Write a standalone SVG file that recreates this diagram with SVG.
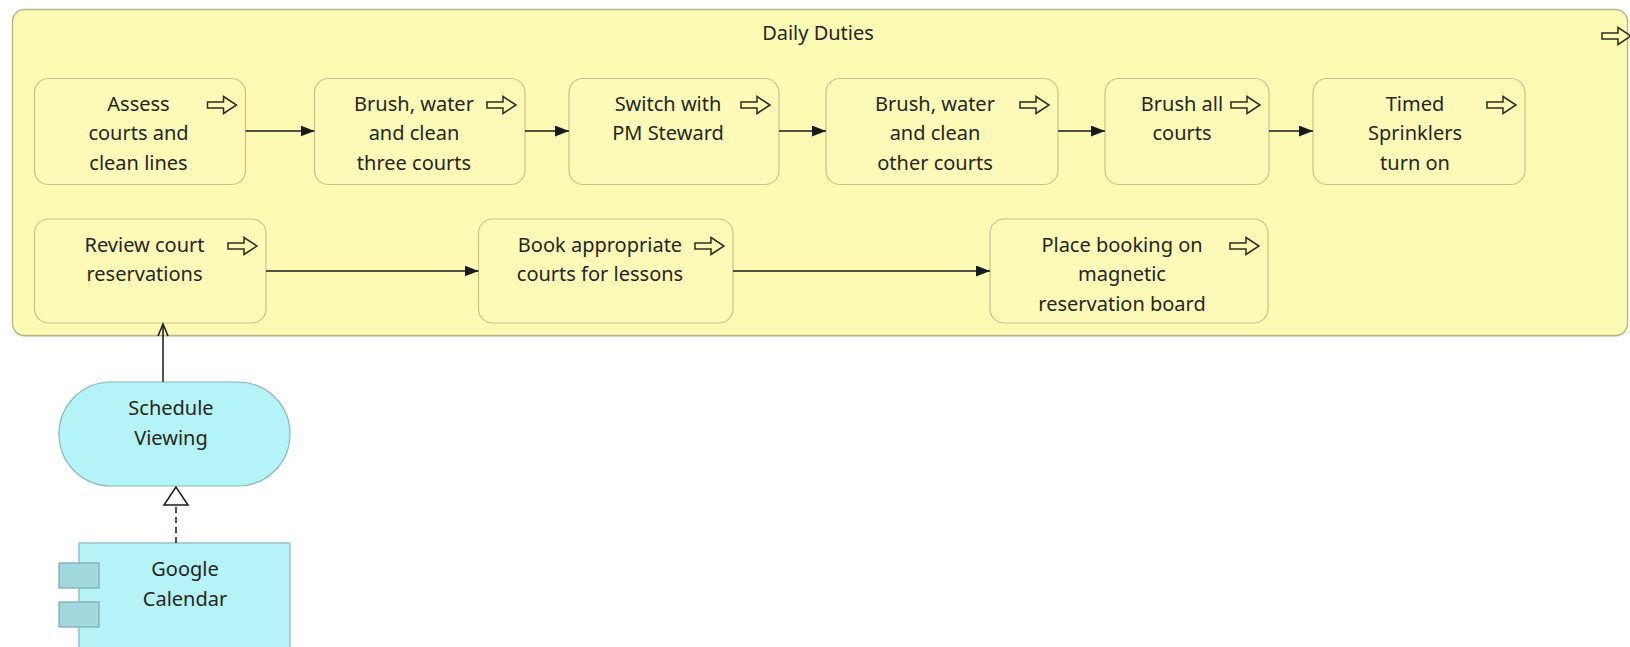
<svg xmlns="http://www.w3.org/2000/svg" width="1630" height="647" viewBox="0 0 1630 647">
  <style>
    .lbl { font-family: "Noto Sans", "Open Sans", sans-serif; font-size: 20px; fill: #262620; text-anchor: middle; }
    .proc { fill: #fdfab8; stroke: #c9c48c; stroke-width: 1.2; }
    .group { fill: #fdfab4; stroke: #b9b58a; stroke-width: 1.4; }
    .app { fill: #b4f3f8; stroke: #86b9bd; stroke-width: 1.2; }
    .tab { fill: #a2d9de; stroke: #79aab0; stroke-width: 1.2; }
    .icon { fill: none; stroke: #2e2e22; stroke-width: 1.5; stroke-linejoin: miter; }
    .flow { fill: none; stroke: #1a1a1a; stroke-width: 1.5; }
  </style>
  <defs>
    <!-- process (block arrow) icon, 29 x 17 -->
    <path id="procIcon" class="icon" d="M0,5.5 H16 V0 L29,8.5 L16,17 V11.5 H0 Z"/>
    <marker id="flowHead" markerUnits="userSpaceOnUse" markerWidth="15" markerHeight="12" refX="14" refY="5.5" orient="auto">
      <path d="M0,0 L14,5.5 L0,11 Z" fill="#1a1a1a"/>
    </marker>
  </defs>

  <rect width="1630" height="647" fill="#ffffff"/>

  <!-- Daily Duties grouping -->
  <g id="daily-duties">
    <rect x="13" y="11" width="1614" height="326" rx="12" fill="#d9d6a6" opacity="0.6"/>
    <rect class="group" x="12.5" y="9.5" width="1615" height="326" rx="12"/>
    <text class="lbl" x="818" y="40">Daily Duties</text>
    <use href="#procIcon" x="1602" y="27.5"/>
  </g>

  <g id="assess">
    <rect class="proc" x="34.5" y="78.5" width="211" height="106" rx="14"/>
    <text class="lbl" x="138.5" y="110.5">Assess</text>
    <text class="lbl" x="138.5" y="140">courts and</text>
    <text class="lbl" x="138.5" y="169.5">clean lines</text>
    <use href="#procIcon" x="207.5" y="96.5"/>
  </g>

  <g id="brush-three">
    <rect class="proc" x="314.5" y="78.5" width="210.5" height="106" rx="14"/>
    <text class="lbl" x="414" y="110.5">Brush, water</text>
    <text class="lbl" x="414" y="140">and clean</text>
    <text class="lbl" x="414" y="169.5">three courts</text>
    <use href="#procIcon" x="487" y="96.5"/>
  </g>

  <g id="switch">
    <rect class="proc" x="569" y="78.5" width="210" height="106" rx="14"/>
    <text class="lbl" x="668" y="110.5">Switch with</text>
    <text class="lbl" x="668" y="140">PM Steward</text>
    <use href="#procIcon" x="741" y="96.5"/>
  </g>

  <g id="brush-other">
    <rect class="proc" x="826" y="78.5" width="232" height="106" rx="14"/>
    <text class="lbl" x="935" y="110.5">Brush, water</text>
    <text class="lbl" x="935" y="140">and clean</text>
    <text class="lbl" x="935" y="169.5">other courts</text>
    <use href="#procIcon" x="1020" y="96.5"/>
  </g>

  <g id="brush-all">
    <rect class="proc" x="1105" y="78.5" width="164" height="106" rx="14"/>
    <text class="lbl" x="1182" y="110.5">Brush all</text>
    <text class="lbl" x="1182" y="140">courts</text>
    <use href="#procIcon" x="1231" y="96.5"/>
  </g>

  <g id="sprinklers">
    <rect class="proc" x="1313" y="78.5" width="212" height="106" rx="14"/>
    <text class="lbl" x="1415" y="110.5">Timed</text>
    <text class="lbl" x="1415" y="140">Sprinklers</text>
    <text class="lbl" x="1415" y="169.5">turn on</text>
    <use href="#procIcon" x="1487" y="96.5"/>
  </g>

  <g id="review">
    <rect class="proc" x="34.5" y="219" width="231.5" height="104" rx="14"/>
    <text class="lbl" x="144.5" y="251.5">Review court</text>
    <text class="lbl" x="144.5" y="281">reservations</text>
    <use href="#procIcon" x="228" y="237.5"/>
  </g>

  <g id="book">
    <rect class="proc" x="478.5" y="219" width="254.5" height="104" rx="14"/>
    <text class="lbl" x="600" y="251.5">Book appropriate</text>
    <text class="lbl" x="600" y="281">courts for lessons</text>
    <use href="#procIcon" x="695" y="237.5"/>
  </g>

  <g id="place-booking">
    <rect class="proc" x="990" y="219" width="278" height="104" rx="14"/>
    <text class="lbl" x="1122" y="251.5">Place booking on</text>
    <text class="lbl" x="1122" y="281">magnetic</text>
    <text class="lbl" x="1122" y="310.5">reservation board</text>
    <use href="#procIcon" x="1230" y="237.5"/>
  </g>

  <g id="schedule-viewing">
    <rect class="app" x="59" y="382" width="231" height="104" rx="52"/>
    <text class="lbl" x="171" y="415">Schedule</text>
    <text class="lbl" x="171" y="444.5">Viewing</text>
  </g>

  <g id="google-calendar">
    <rect class="app" x="79" y="543" width="211" height="130"/>
    <rect class="tab" x="59" y="563" width="40" height="25"/>
    <rect class="tab" x="59" y="602" width="40" height="25"/>
    <text class="lbl" x="185" y="576">Google</text>
    <text class="lbl" x="185" y="605.5">Calendar</text>
  </g>

  <g id="connectors">
    <!-- triggering flow, first row -->
    <line class="flow" x1="245.5" y1="131" x2="314.5" y2="131" marker-end="url(#flowHead)"/>
    <line class="flow" x1="525" y1="131" x2="569" y2="131" marker-end="url(#flowHead)"/>
    <line class="flow" x1="779" y1="131" x2="826" y2="131" marker-end="url(#flowHead)"/>
    <line class="flow" x1="1058" y1="131" x2="1105" y2="131" marker-end="url(#flowHead)"/>
    <line class="flow" x1="1269" y1="131" x2="1313" y2="131" marker-end="url(#flowHead)"/>
    <!-- triggering flow, second row -->
    <line class="flow" x1="266" y1="271" x2="478.5" y2="271" marker-end="url(#flowHead)"/>
    <line class="flow" x1="733" y1="271" x2="990" y2="271" marker-end="url(#flowHead)"/>
    <!-- serving: Schedule Viewing to Review court reservations -->
    <line class="flow" x1="163" y1="382" x2="163" y2="324"/>
    <path class="flow" d="M158,336 L163,324 L168,336"/>
    <!-- realization: Google Calendar to Schedule Viewing -->
    <line class="flow" x1="176" y1="543" x2="176" y2="505" stroke-dasharray="6 4"/>
    <path d="M176,487 L164,505 L188,505 Z" fill="#ffffff" stroke="#1a1a1a" stroke-width="1.5"/>
  </g>
</svg>
